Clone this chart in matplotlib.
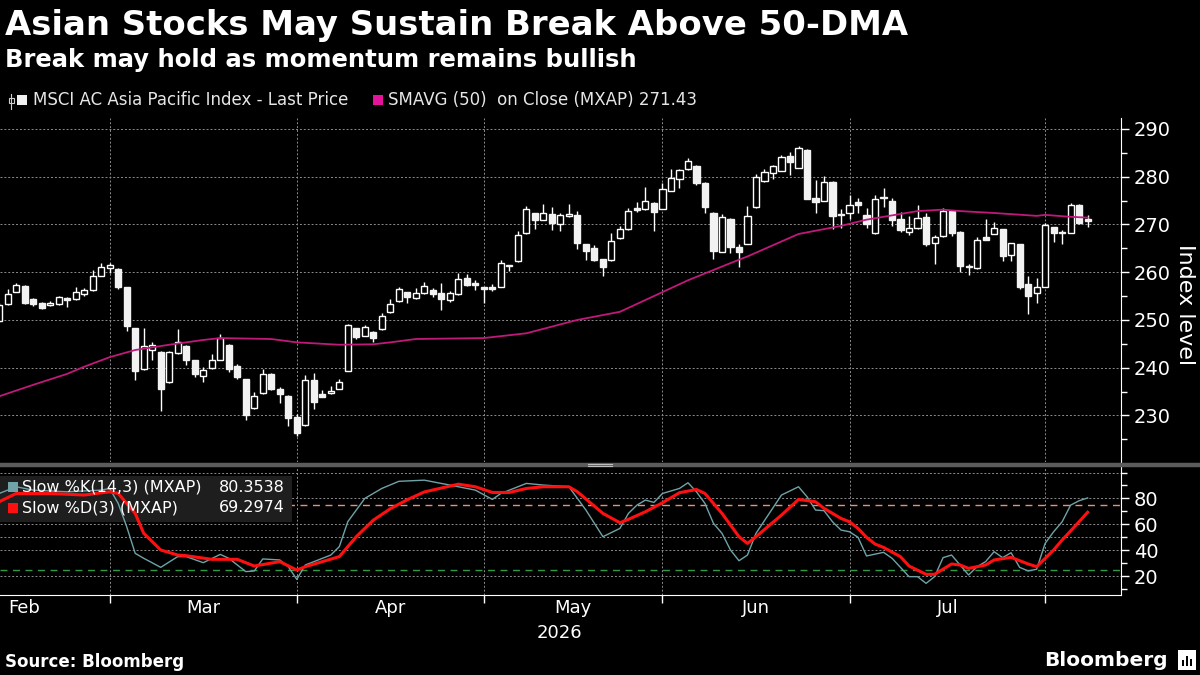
import matplotlib
matplotlib.use("Agg")
import matplotlib.pyplot as plt
from matplotlib.patches import Rectangle
from matplotlib.lines import Line2D
import numpy as np
import pandas as pd

# trading days shown (MXAP daily candles)
first_day = "2026-02-11"
n_days = 129

opens = [249.7, 253.3, 255.9, 257.1, 254.4, 253.6, 253.1, 253.3, 254.6, 254.3,
         255.5, 256.2, 259.3, 260.8, 260.7, 256.9, 248.3, 239.8, 243.8, 243.3,
         236.9, 243.0, 244.6, 241.6, 238.3, 239.9, 241.7, 244.8, 240.4, 237.6,
         231.6, 234.6, 238.7, 235.5, 234.1, 229.7, 227.9, 237.4, 234.4, 234.6,
         235.6, 239.4, 248.3, 246.7, 247.5, 248.0, 251.6, 253.9, 255.8, 254.5,
         255.6, 256.2, 255.6, 254.1, 255.4, 258.7, 257.8, 256.9, 256.8, 256.9,
         261.5, 262.3, 268.2, 272.4, 271.0, 272.2, 270.0, 271.7, 272.0, 265.9,
         265.1, 262.7, 262.5, 267.1, 269.0, 273.4, 273.2, 274.5, 273.3, 277.1,
         279.5, 281.6, 282.3, 278.7, 272.5, 264.3, 271.2, 265.3, 265.9, 273.6,
         279.0, 280.7, 281.3, 284.4, 281.9, 285.6, 275.6, 275.0, 278.9, 272.2,
         272.5, 274.6, 272.0, 268.2, 275.6, 275.0, 271.1, 268.5, 269.2, 271.6,
         266.1, 267.5, 272.9, 268.5, 261.1, 260.8, 267.4, 268.0, 269.0, 263.7,
         265.9, 257.6, 255.6, 257.0, 269.4, 268.3, 268.3, 274.1, 271.0]
highs = [253.5, 256.5, 257.8, 257.3, 254.5, 253.7, 254.0, 255.1, 254.7, 256.9,
         256.6, 260.4, 261.9, 262.0, 260.8, 257.0, 248.4, 248.3, 245.3, 243.4,
         243.5, 248.1, 244.7, 241.7, 240.2, 242.9, 247.1, 244.9, 240.7, 237.7,
         235.0, 239.7, 238.8, 236.0, 234.2, 230.2, 238.4, 238.8, 235.3, 236.2,
         237.6, 249.2, 248.4, 249.0, 247.6, 251.5, 254.3, 256.9, 255.9, 256.6,
         258.0, 256.6, 257.7, 256.0, 259.9, 259.7, 258.4, 257.0, 257.5, 262.6,
         261.5, 268.7, 273.9, 272.5, 274.2, 273.6, 272.4, 274.3, 272.9, 266.0,
         265.7, 262.8, 268.3, 269.6, 273.4, 274.7, 277.8, 274.6, 278.7, 281.6,
         281.6, 284.0, 282.4, 278.8, 272.6, 272.2, 271.3, 265.9, 273.8, 280.5,
         281.6, 282.5, 284.6, 285.1, 286.5, 285.8, 279.3, 280.1, 279.0, 273.2,
         276.2, 275.5, 273.4, 276.2, 277.6, 275.5, 272.7, 271.7, 274.1, 272.4,
         267.8, 273.4, 273.0, 268.6, 261.7, 267.3, 271.1, 270.5, 269.1, 266.2,
         266.0, 259.2, 258.7, 270.3, 269.5, 268.9, 274.5, 274.2, 271.9]
lows = [249.5, 253.2, 255.8, 253.4, 252.9, 252.3, 253.0, 253.2, 252.7, 254.2,
        255.1, 256.0, 259.2, 259.9, 256.4, 247.6, 237.4, 239.6, 241.6, 231.0,
        236.7, 242.9, 240.5, 238.1, 237.1, 239.8, 241.6, 239.1, 237.7, 229.0,
        231.3, 234.4, 235.3, 232.5, 227.8, 225.6, 227.7, 231.3, 233.9, 234.5,
        235.5, 239.3, 246.0, 246.6, 245.3, 247.9, 251.5, 253.8, 253.5, 254.4,
        255.5, 254.9, 252.1, 253.8, 255.3, 257.1, 256.3, 253.5, 256.1, 256.8,
        260.3, 262.2, 268.0, 269.0, 270.9, 268.8, 268.7, 271.5, 264.9, 262.5,
        262.4, 259.2, 262.4, 266.9, 268.9, 272.7, 273.1, 268.7, 273.2, 277.0,
        277.6, 281.5, 278.3, 272.4, 262.7, 264.2, 264.0, 261.1, 265.8, 273.5,
        278.9, 279.5, 281.2, 280.4, 281.8, 275.3, 272.4, 274.9, 269.0, 269.2,
        271.1, 272.5, 269.2, 268.1, 273.6, 269.6, 268.5, 267.7, 269.0, 265.4,
        261.7, 267.3, 267.5, 260.1, 259.4, 260.6, 266.7, 267.9, 262.4, 262.4,
        256.4, 251.3, 253.6, 256.9, 266.4, 265.9, 268.2, 270.1, 269.4]
closes = [253.1, 255.5, 257.3, 253.6, 253.3, 252.4, 253.6, 254.8, 254.1, 255.9,
          256.2, 259.2, 261.1, 261.5, 257.0, 248.8, 239.2, 244.5, 244.7, 235.6,
          243.2, 245.3, 241.6, 238.7, 239.5, 241.6, 246.2, 239.7, 238.1, 230.0,
          234.1, 238.7, 235.6, 234.4, 229.5, 226.4, 237.4, 232.9, 233.9, 235.1,
          237.0, 248.9, 246.4, 248.5, 246.2, 250.8, 253.4, 256.5, 254.7, 255.6,
          257.1, 255.5, 254.3, 255.6, 258.5, 257.4, 257.3, 256.4, 256.4, 262.0,
          261.2, 267.8, 273.3, 271.0, 272.4, 270.2, 271.9, 272.2, 266.2, 264.5,
          262.6, 261.0, 266.6, 269.0, 272.9, 273.1, 274.9, 272.7, 277.5, 279.8,
          281.4, 283.3, 278.6, 273.6, 264.5, 271.5, 265.3, 264.3, 271.7, 279.9,
          281.0, 282.3, 284.1, 283.1, 286.0, 275.4, 274.8, 278.9, 271.7, 272.0,
          274.1, 274.0, 270.1, 275.3, 275.5, 271.0, 268.9, 269.2, 271.3, 266.0,
          267.3, 272.9, 268.3, 261.2, 261.0, 266.8, 266.8, 269.2, 263.3, 266.1,
          257.0, 255.0, 256.9, 269.9, 268.3, 268.2, 274.1, 270.4, 270.8]

# 50-day SMA at these candle positions
sma_idx = [0, 4, 8, 10, 13, 16, 20, 24, 26, 32, 35, 40, 44, 46, 49, 57, 62, 68,
           73, 81, 86, 88, 94, 99, 102, 106, 108, 111, 113, 117, 122, 123, 126, 128]
sma_val = [234.0, 236.4, 238.7, 240.2, 242.2, 243.7, 244.8, 245.8, 246.2, 246.0,
           245.3, 244.8, 244.9, 245.3, 246.0, 246.2, 247.2, 250.0, 251.7, 258.3,
           261.9, 263.3, 268.0, 269.7, 271.0, 272.2, 272.8, 273.1, 272.8, 272.4,
           271.8, 272.0, 271.6, 271.43]

# slow stochastics
k_idx = [0, 2, 4, 8, 12, 13, 14, 15, 16, 17, 19, 21, 22, 24, 26, 27, 29, 30, 31,
         33, 34, 35, 36, 39, 40, 41, 43, 45, 47, 50, 53, 56, 58, 59, 62, 64, 67,
         69, 71, 73, 74, 75, 76, 77, 78, 80, 81, 82, 83, 84, 85, 86, 87, 88, 89,
         92, 94, 95, 96, 97, 98, 99, 100, 101, 102, 104, 105, 107, 108, 109, 110,
         111, 112, 113, 114, 115, 116, 117, 118, 119, 120, 121, 122, 123, 124,
         125, 126, 127, 128]
k_val = [83.8, 89.0, 86.4, 85.1, 86.4, 87.7, 76.1, 58.1, 37.5, 33.7, 26.7, 35.0,
         35.0, 30.3, 36.7, 33.7, 23.4, 23.9, 33.2, 32.4, 27.2, 17.4, 28.5, 36.2,
         42.7, 62.0, 80.0, 87.7, 93.2, 94.1, 90.3, 86.4, 79.2, 83.8, 91.6, 90.3,
         89.0, 71.0, 50.4, 56.8, 68.4, 74.8, 78.7, 76.9, 83.8, 87.7, 92.1, 85.1,
         76.1, 60.7, 53.0, 40.1, 31.8, 36.2, 53.0, 82.6, 89.0, 81.3, 71.0, 70.5,
         61.9, 55.5, 54.2, 49.9, 35.5, 38.3, 33.7, 19.5, 19.5, 14.3, 19.5, 34.2,
         36.2, 28.5, 20.8, 27.2, 31.1, 38.8, 34.2, 38.0, 26.7, 23.9, 25.2, 45.2,
         54.2, 61.9, 74.8, 78.2, 80.3538]
d_idx = [0, 2, 6, 10, 13, 14, 16, 17, 19, 21, 22, 25, 28, 30, 33, 35, 36, 40, 42,
         44, 46, 48, 50, 54, 56, 58, 60, 62, 64, 67, 68, 71, 73, 74, 76, 78, 80,
         82, 83, 85, 87, 88, 89, 92, 94, 96, 97, 99, 100, 101, 102, 103, 104, 106,
         107, 109, 110, 112, 113, 114, 116, 117, 119, 121, 122, 124, 125, 127, 128]
d_val = [77.4, 83.8, 83.8, 82.6, 85.1, 83.8, 68.4, 53.0, 40.1, 36.2, 35.7, 32.9,
         32.9, 27.7, 31.1, 24.6, 27.2, 35.0, 50.4, 63.2, 72.0, 79.0, 85.0, 91.0,
         89.0, 84.6, 84.6, 87.7, 89.0, 89.0, 85.1, 68.4, 61.2, 63.8, 69.7, 76.6,
         84.4, 86.9, 83.8, 68.4, 50.4, 45.2, 50.4, 67.1, 79.2, 77.4, 72.3, 64.5,
         61.9, 56.8, 49.9, 44.7, 42.1, 34.9, 27.7, 21.3, 21.3, 29.3, 28.5, 25.9,
         28.5, 32.4, 34.4, 29.3, 27.2, 40.1, 47.8, 62.0, 69.2974]

price_ticks = [230, 240, 250, 260, 270, 280, 290]
stoch_ticks = [20, 40, 60, 80]

BG = "black"
FG = "white"
GRID = "#8c8c8c"
K_COL = "#6fa3a8"
D_COL = "#ff1010"

dates = pd.bdate_range(first_day, periods=n_days)
idx = np.arange(n_days)
o = np.array(opens)
h = np.array(highs)
l = np.array(lows)
c = np.array(closes)

# first trading day of each month -> position on the candle axis
month_first = pd.Series(idx, index=dates).groupby(dates.to_period("M")).min()
month_pos = list(month_first.values[1:])  # Mar..Aug boundaries
feb_start = -int(np.busday_count("2026-02-02", first_day))
bounds = [feb_start] + month_pos
month_names = ["Feb", "Mar", "Apr", "May", "Jun", "Jul"]


def fx(px):
    return px / 1200


def fy(py):
    return 1 - py / 675


fig = plt.figure(figsize=(12, 6.75), dpi=100, facecolor=BG)
ax = fig.add_axes([0, 0.316, 0.934, 0.5092], facecolor=BG)
ax2 = fig.add_axes([0, 0.1185, 0.934, 0.1895], facecolor=BG)

xlim = (0.1, 131.9)

# --- price panel ---
for m in month_pos:
    ax.axvline(m, color=GRID, lw=0.7, ls=(0, (2, 2)), zorder=1)
for t in price_ticks:
    ax.axhline(t, color=GRID, lw=0.7, ls=(0, (2, 2)), zorder=1)

ax.vlines(idx, l, h, color=FG, lw=1.0, zorder=2)
up = c >= o
body_lo = np.minimum(o, c)
body_h = np.maximum(np.abs(c - o), 0.25)
ax.bar(idx[up], body_h[up], bottom=body_lo[up], width=0.72, color=BG,
       edgecolor=FG, linewidth=1.0, zorder=3)
ax.bar(idx[~up], body_h[~up], bottom=body_lo[~up], width=0.72, color="#f2f2f2",
       edgecolor="#f2f2f2", linewidth=1.0, zorder=3)
ax.plot(sma_idx, sma_val, color="#c0197a", lw=1.3, zorder=4)

ax.set_xlim(*xlim)
ax.set_ylim(220.3, 292.3)
ax.yaxis.tick_right()
ax.set_yticks(price_ticks)
ax.set_yticks(np.arange(225, 292, 10), minor=True)
ax.tick_params(axis="y", colors=FG, labelsize=14, length=6, width=1)
ax.tick_params(axis="y", which="minor", colors=FG, length=4, width=1)
ax.set_xticks([])
for s in ["top", "left", "bottom"]:
    ax.spines[s].set_visible(False)
ax.spines["right"].set_color(FG)

# --- stochastic panel ---
for m in month_pos:
    ax2.axvline(m, color=GRID, lw=0.7, ls=(0, (2, 2)), zorder=1)
for t in [20, 40, 50, 60, 80, 100]:
    ax2.axhline(t, color=GRID, lw=0.7, ls=(0, (2, 2)), zorder=1)
ax2.axhline(75, color="#e8907e", lw=1.0, ls=(0, (5, 4)), zorder=1)
ax2.axhline(25, color="#2f9a44", lw=1.0, ls=(0, (5, 4)), zorder=1)
ax2.plot(k_idx, k_val, color=K_COL, lw=1.0, zorder=3)
ax2.plot(d_idx, d_val, color=D_COL, lw=2.2, zorder=4)

# legend box sits under the lines
ax2.add_patch(Rectangle((0, fy(522)), fx(292), 46 / 675,
                        transform=fig.transFigure, facecolor="#1e1e1e",
                        edgecolor="none", zorder=2, clip_on=False))

ax2.set_xlim(*xlim)
ax2.set_ylim(5.3, 104.2)
ax2.yaxis.tick_right()
ax2.set_yticks(stoch_ticks)
ax2.set_yticks([10, 30, 50, 70, 90, 100], minor=True)
ax2.tick_params(axis="y", colors=FG, labelsize=14, length=6, width=1)
ax2.tick_params(axis="y", which="minor", colors=FG, length=4, width=1)
ax2.set_xticks(month_pos)
ax2.set_xticklabels([])
ax2.tick_params(axis="x", colors=FG, length=6, width=1)
for s in ["top", "left"]:
    ax2.spines[s].set_visible(False)
ax2.spines["right"].set_color(FG)
ax2.spines["bottom"].set_color(FG)

xt = ax2.get_xaxis_transform()
for name, a, b in zip(month_names, bounds[:-1], bounds[1:]):
    ax2.text((a + b) / 2, -0.10, name, transform=xt, color=FG, fontsize=13,
             ha="center", va="center")
ax2.text(65.9, -0.30, "2026", transform=xt, color=FG, fontsize=13,
         ha="center", va="center")

for yy, col, lab, val in [(487, K_COL, "Slow %K(14,3) (MXAP)", "80.3538"),
                          (508, D_COL, "Slow %D(3) (MXAP)", "69.2974")]:
    fig.add_artist(Rectangle((fx(8), fy(yy + 5)), fx(10), 10 / 675,
                             transform=fig.transFigure, facecolor=col,
                             edgecolor="none", zorder=6))
    fig.text(fx(22), fy(yy), lab, color=FG, fontsize=11.5, va="center", zorder=6)
    fig.text(fx(219), fy(yy), val, color=FG, fontsize=11.5, va="center", zorder=6)

# panel separator
fig.add_artist(Line2D([0, 1], [fy(464.5)] * 2, transform=fig.transFigure,
                      color="#5c5c5c", lw=3.2))
for yy in (463.8, 465.6):
    fig.add_artist(Line2D([0.49, 0.51], [fy(yy)] * 2, transform=fig.transFigure,
                          color="#bdbdbd", lw=0.8))

# top legend
fig.add_artist(Rectangle((fx(17), fy(105)), fx(10), 10 / 675,
                         transform=fig.transFigure, facecolor="#f0f0f0",
                         edgecolor="none"))
fig.add_artist(Line2D([fx(11)] * 2, [fy(109), fy(94)],
                      transform=fig.transFigure, color="#cfcfcf", lw=0.8))
fig.add_artist(Rectangle((fx(9), fy(103)), fx(5), 5 / 675,
                         transform=fig.transFigure, facecolor=BG,
                         edgecolor="#cfcfcf", lw=0.8))
fig.text(fx(33), fy(100), "MSCI AC Asia Pacific Index - Last Price",
         color="#e6e6e6", fontsize=12, va="center")
fig.add_artist(Rectangle((fx(373), fy(105)), fx(10), 10 / 675,
                         transform=fig.transFigure, facecolor="#e5129b",
                         edgecolor="none"))
fig.text(fx(388), fy(100), "SMAVG (50)  on Close (MXAP) 271.43",
         color="#e6e6e6", fontsize=12, va="center")

# titles and labels
fig.text(fx(5), fy(25), "Asian Stocks May Sustain Break Above 50-DMA",
         color=FG, fontsize=24.4, fontweight="bold", va="center")
fig.text(fx(5), fy(60), "Break may hold as momentum remains bullish",
         color=FG, fontsize=17.5, fontweight="bold", va="center")
fig.text(fx(1185), fy(305), "Index level", color=FG, fontsize=16,
         rotation=270, ha="center", va="center")
fig.text(fx(5), fy(662), "Source: Bloomberg", color=FG, fontsize=12,
         fontweight="bold", va="center")
fig.text(fx(1168), fy(660), "Bloomberg", color=FG, fontsize=14.5,
         fontweight="bold", ha="right", va="center")
fig.add_artist(Rectangle((fx(1178), fy(670)), fx(18), 20 / 675,
                         transform=fig.transFigure, facecolor=FG, edgecolor="none"))
for bx, bh in [(1182, 6), (1186, 10), (1190, 7)]:
    fig.add_artist(Rectangle((fx(bx), fy(666)), fx(2), bh / 675,
                             transform=fig.transFigure, facecolor=BG,
                             edgecolor="none"))

fig.savefig("out.png", dpi=100, facecolor=BG)
